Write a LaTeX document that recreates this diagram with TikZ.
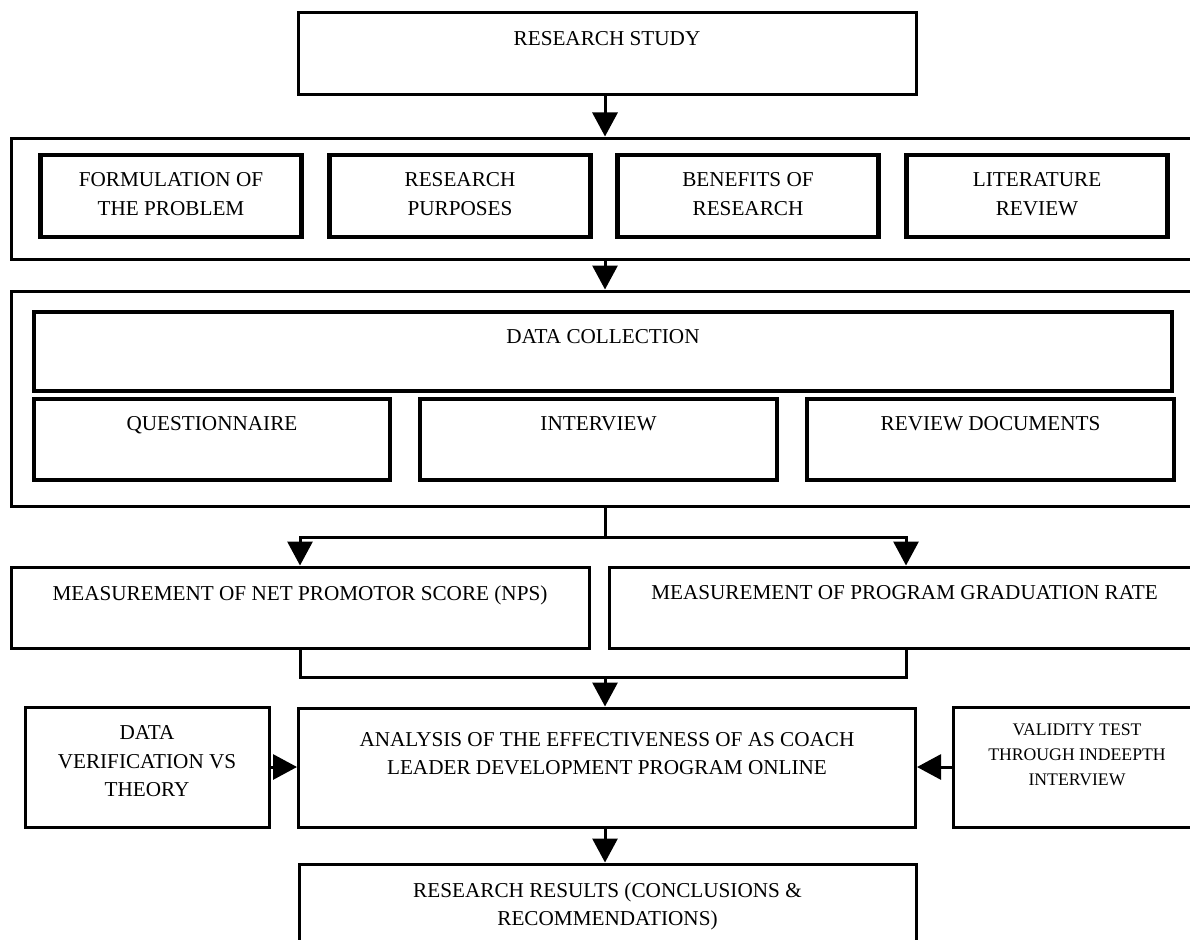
\documentclass[tikz,border=0pt]{standalone}
\usepackage{fontspec}
\setmainfont{Liberation Serif}
\usetikzlibrary{arrows.meta, positioning}

\newcommand{\boxfont}{\fontsize{21.2}{28.5}\selectfont}
\newcommand{\smallboxfont}{\fontsize{17.7}{25}\selectfont}

\begin{document}
\begin{tikzpicture}[x=1pt, y=-1pt,
  box/.style={rectangle, draw, line width=3pt, inner sep=0pt},
  thickbox/.style={box, line width=4.5pt},
  textlabel/.style={anchor=north, yshift=-20pt, inner sep=0pt, font=\boxfont, align=center},
  toptext/.style={label={[textlabel]north:{#1}}},
  link/.style={line width=3pt},
  arr/.style={link, -{Triangle[length=24pt, width=25pt]}}
]
  \clip (0,0) rectangle (1190,939);
  \fill[white] (0,0) rectangle (1190,939);

  % helper coordinates for the connectors
  \coordinate (spine) at (605,0);
  \coordinate (rightleg) at (906,0);
  \coordinate (fork) at (605,537);
  \coordinate (merge) at (605,677);

  \node[box, minimum width=618pt, minimum height=82pt, toptext={RESEARCH STUDY}] (study) at (607,54) {};

  % first stage
  \node[box, minimum width=1189pt, minimum height=121pt] (stage1) at (605.5,198.5) {};
  \node[thickbox, minimum width=261pt, minimum height=82pt, toptext={FORMULATION OF\\THE PROBLEM}] (problem) at (171,196) {};
  \node[thickbox, minimum width=261pt, minimum height=82pt, toptext={RESEARCH\\PURPOSES}] (purposes) at (460,196) {};
  \node[thickbox, minimum width=261pt, minimum height=82pt, toptext={BENEFITS OF\\RESEARCH}] (benefits) at (748,196) {};
  \node[thickbox, minimum width=261pt, minimum height=82pt, toptext={LITERATURE\\REVIEW}] (literature) at (1037,196) {};

  % data collection stage
  \node[box, minimum width=1189pt, minimum height=215pt] (stage2) at (605.5,398.5) {};
  \node[thickbox, minimum width=1138pt, minimum height=79pt, toptext={DATA COLLECTION}] (collection) at (603,351.5) {};
  \node[thickbox, minimum width=356pt, minimum height=81pt, toptext={QUESTIONNAIRE}] (questionnaire) at (212,439.5) {};
  \node[thickbox, minimum width=357pt, minimum height=81pt, toptext={INTERVIEW}] (interview) at (598.5,439.5) {};
  \node[thickbox, minimum width=367pt, minimum height=81pt, toptext={REVIEW DOCUMENTS}] (documents) at (990.5,439.5) {};

  % measurements
  \node[box, minimum width=578pt, minimum height=81pt, toptext={MEASUREMENT OF NET PROMOTOR SCORE (NPS)}] (nps) at (300,607.5) {};
  \node[box, minimum width=591pt, minimum height=81pt, toptext={MEASUREMENT OF PROGRAM GRADUATION RATE}] (grad) at (904.5,607.5) {};

  % analysis row
  \node[box, minimum width=617pt, minimum height=119pt,
    label={[textlabel, yshift=-5.5pt]north:{ANALYSIS OF THE EFFECTIVENESS OF AS COACH\\LEADER DEVELOPMENT PROGRAM ONLINE}}] (analysis) at (607,767.5) {};
  \node[box, minimum width=244pt, minimum height=120pt, toptext={DATA\\VERIFICATION VS\\THEORY}] (verify) at (147,767) {};
  \node[box, minimum width=247pt, minimum height=120pt,
    label={[textlabel, yshift=1.5pt, font=\smallboxfont]north:{VALIDITY TEST\\THROUGH INDEEPTH\\INTERVIEW}}] (validity) at (1077,767) {};

  \node[box, minimum width=617pt, minimum height=86pt, toptext={RESEARCH RESULTS (CONCLUSIONS \&\\RECOMMENDATIONS)}] (results) at (607.5,907) {};

  % connectors
  \draw[arr] (study.south -| spine) -- (stage1.north -| spine);
  \draw[arr] (stage1.south -| spine) -- (stage2.north -| spine);
  \draw[link] (stage2.south -| spine) -- (fork);
  \draw[arr] (fork) -| (nps.north);
  \draw[arr] (fork) -| (grad.north -| rightleg);
  \draw[link] (nps.south) |- (merge) -| (grad.south -| rightleg);
  \draw[arr] (merge) -- (analysis.north -| spine);
  \draw[arr] (verify.east) -- (verify.east -| analysis.west);
  \draw[arr] (validity.west) -- (validity.west -| analysis.east);
  \draw[arr] (analysis.south -| spine) -- (results.north -| spine);
\end{tikzpicture}
\end{document}
